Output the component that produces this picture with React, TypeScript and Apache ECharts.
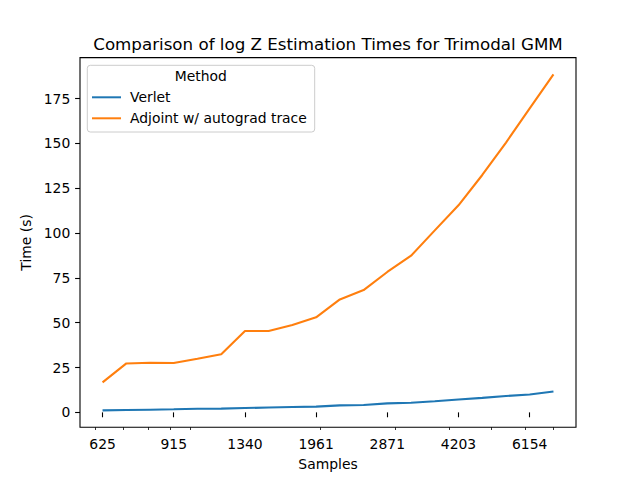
import React, { useEffect, useRef } from "react";
import * as echarts from "echarts";

const samples = [625, 710, 806, 915, 1039, 1180, 1340, 1521, 1727, 1961, 2227, 2529, 2871, 3261, 3702, 4203, 4774, 5421, 6154, 6989];
const tickSamples = [625, 915, 1340, 1961, 2871, 4203, 6154];
const minorTickSamples = [600, 700, 800, 900, 1000, 2000, 3000, 4000, 5000, 6000, 7000];
const yTicks = [0, 25, 50, 75, 100, 125, 150, 175];
const verlet = [1.1, 1.3, 1.5, 1.7, 2.0, 2.1, 2.4, 2.7, 3.0, 3.2, 3.9, 4.1, 5.0, 5.4, 6.2, 7.2, 8.1, 9.1, 10.0, 11.6];
const adjoint = [16.7, 27.3, 27.7, 27.5, 29.9, 32.4, 45.4, 45.4, 48.7, 53.0, 63.0, 68.2, 78.3, 87.4, 101.5, 115.5, 132.4, 150.5, 169.6, 188.5];
const seriesNames = ["Verlet", "Adjoint w/ autograd trace"];

const FONT = "DejaVu Sans";

export default function App() {
  const ref = useRef<HTMLDivElement>(null);
  useEffect(() => {
    if (!ref.current) return;
    const chart = echarts.init(ref.current, undefined, { renderer: "svg" });
    const lo = Math.log10(samples[0]);
    const hi = Math.log10(samples[samples.length - 1]);
    const xs = hi - lo;
    const xMin = lo - 0.05 * xs;
    const xMax = hi + 0.05 * xs;
    const all = verlet.concat(adjoint);
    const dMin = Math.min(...all);
    const dMax = Math.max(...all);
    const ys = dMax - dMin;
    const yMin = dMin - 0.05 * ys;
    const yMax = dMax + 0.05 * ys;
    const fs = 13.9;
    chart.setOption({
      animation: false,
      grid: {
        left: 80,
        right: 64,
        top: 57.6,
        bottom: 52.8,
        show: true,
        borderColor: "#000",
        borderWidth: 1.1,
        backgroundColor: "transparent",
      },
      xAxis: [
        {
          type: "value",
          min: xMin,
          max: xMax,
          name: "Samples",
          nameLocation: "middle",
          nameGap: 29.5,
          nameTextStyle: { fontFamily: FONT, fontSize: fs, color: "#000" },
          axisLine: { show: false },
          splitLine: { show: false },
          axisTick: {
            show: true,
            length: 4.9,
            lineStyle: { color: "#000", width: 1.1 },
            customValues: tickSamples.map((v) => Math.log10(v)),
          },
          axisLabel: {
            show: true,
            margin: 9.7,
            fontFamily: FONT,
            fontSize: fs,
            color: "#000",
            customValues: tickSamples.map((v) => Math.log10(v)),
            formatter: (v: number) => String(Math.round(Math.pow(10, v))),
          },
        },
        {
          type: "value",
          position: "bottom",
          min: xMin,
          max: xMax,
          axisLine: { show: false },
          splitLine: { show: false },
          axisLabel: { show: false },
          axisTick: {
            show: true,
            length: 2.8,
            lineStyle: { color: "#000", width: 0.8 },
            customValues: minorTickSamples.map((v) => Math.log10(v)),
          },
        },
      ],
      yAxis: {
        type: "value",
        min: yMin,
        max: yMax,
        name: "Time (s)",
        nameLocation: "middle",
        nameGap: 41,
        nameRotate: 90,
        nameTextStyle: { fontFamily: FONT, fontSize: fs, color: "#000" },
        axisLine: { show: false },
        splitLine: { show: false },
        axisTick: {
          show: true,
          length: 4.9,
          lineStyle: { color: "#000", width: 1.1 },
          customValues: yTicks,
        },
        axisLabel: {
          show: true,
          margin: 9.7,
          fontFamily: FONT,
          fontSize: fs,
          color: "#000",
          customValues: yTicks,
        },
      },
      legend: {
        data: seriesNames,
        orient: "vertical",
        left: 92,
        top: 89.3,
        padding: 0,
        itemWidth: 29,
        itemHeight: 2,
        itemGap: 5,
        icon: "rect",
        textStyle: { fontFamily: FONT, fontSize: fs, color: "#000", lineHeight: 16, padding: [0, 0, 0, 4] },
      },
      graphic: [
        {
          type: "rect",
          z: 0,
          shape: { x: 87.3, y: 65.3, width: 227.4, height: 66.7, r: 3 },
          style: { fill: "rgba(255,255,255,0.8)", stroke: "#cccccc", lineWidth: 1 },
        },
        {
          type: "text",
          z: 5,
          x: 200.7,
          y: 75.7,
          style: { text: "Method", fontFamily: FONT, fontSize: fs, fill: "#000", align: "center", verticalAlign: "middle" },
        },
        {
          type: "text",
          z: 5,
          x: 328,
          y: 44,
          style: {
            text: "Comparison of log Z Estimation Times for Trimodal GMM",
            fontFamily: FONT,
            fontSize: 16.7,
            fill: "#000",
            align: "center",
            verticalAlign: "middle",
          },
        },
      ],
      series: [
        {
          name: seriesNames[0],
          type: "line",
          xAxisIndex: 0,
          showSymbol: false,
          symbol: "none",
          color: "#1f77b4",
          lineStyle: { width: 2.1, color: "#1f77b4" },
          data: samples.map((s, i) => [Math.log10(s), verlet[i]]),
        },
        {
          name: seriesNames[1],
          type: "line",
          xAxisIndex: 0,
          showSymbol: false,
          symbol: "none",
          color: "#ff7f0e",
          lineStyle: { width: 2.1, color: "#ff7f0e" },
          data: samples.map((s, i) => [Math.log10(s), adjoint[i]]),
        },
      ],
    });
    return () => chart.dispose();
  }, []);
  return <div ref={ref} style={{ position: "fixed", left: 0, top: 0, width: 640, height: 480, background: "#fff" }} />;
}
